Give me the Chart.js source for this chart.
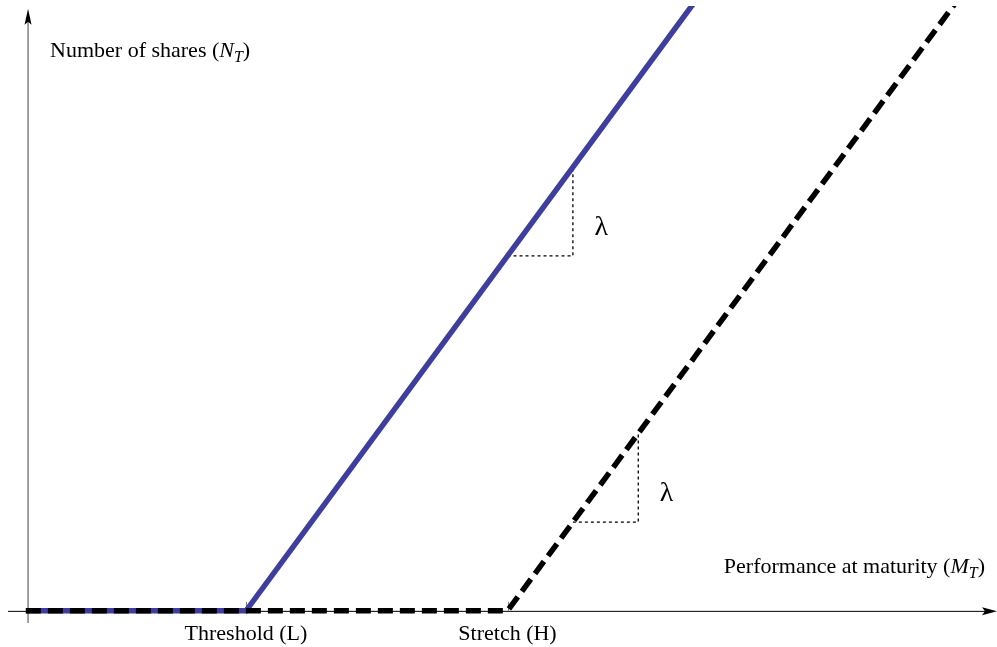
<!DOCTYPE html>
<html>
<head>
<meta charset="utf-8">
<title>Number of shares vs performance at maturity</title>
<script src="https://cdn.jsdelivr.net/npm/chart.js@4.4.0/dist/chart.umd.min.js"></script>
<style>
  html, body { margin: 0; padding: 0; background: #ffffff; }
  #wrap { width: 997px; height: 647px; }
</style>
</head>
<body>
<div id="wrap"><canvas id="c" width="997" height="647"></canvas></div>
<script>
// Payoff schedule: shares vested as a function of performance at maturity
const thresholdPerf = [-1, 100, 320];
const thresholdShares = [0, 0, 220];
const stretchPerf = [-1, 220, 440];
const stretchShares = [0, 0, 220];

// Slope markers (run of 30, rise of 30 => slope lambda)
const slopeThresholdX = [220, 250, 250];
const slopeThresholdY = [120, 120, 150];
const slopeStretchX = [250, 280, 280];
const slopeStretchY = [30, 30, 60];

// Axis tick positions and labels
const tickValues = [100, 220];
const tickLabels = ['Threshold (L)', 'Stretch (H)'];

const xMin = -9.2, xMax = 444.6;
const yMin = -4.1, yMax = 204.5;

const SERIF = "'Liberation Serif', 'Times New Roman', 'DejaVu Serif', serif";
const BLUE = 'rgb(62, 62, 158)';

function pts(xs, ys) { return xs.map((x, i) => ({ x: x, y: ys[i] })); }

// Draw a run of text pieces (with optional italic/subscript parts)
function richText(ctx, parts, x, y, align) {
  let total = 0;
  parts.forEach(p => { ctx.font = p.font; p.w = ctx.measureText(p.t).width; total += p.w; });
  let cx = align === 'right' ? x - total : (align === 'center' ? x - total / 2 : x);
  ctx.textAlign = 'left';
  ctx.textBaseline = 'alphabetic';
  parts.forEach(p => {
    ctx.font = p.font;
    ctx.fillText(p.t, cx, y + (p.dy || 0));
    cx += p.w;
  });
}

const axesPlugin = {
  id: 'axesPlugin',
  beforeDatasetsDraw(chart) {
    const ctx = chart.ctx, xs = chart.scales.x, ys = chart.scales.y;
    const x0 = xs.getPixelForValue(0), y0 = ys.getPixelForValue(0);
    const yTop = ys.getPixelForValue(203.6);
    const yBot = ys.getPixelForValue(yMin);
    const xLeft = xs.getPixelForValue(xMin);
    const xRight = xs.getPixelForValue(xMax);
    ctx.save();
    // vertical axis
    ctx.strokeStyle = '#808080';
    ctx.lineWidth = 1.5;
    ctx.beginPath();
    ctx.moveTo(x0, yBot);
    ctx.lineTo(x0, yTop + 12);
    ctx.stroke();
    ctx.fillStyle = '#000';
    ctx.beginPath();
    ctx.moveTo(x0, yTop);
    ctx.lineTo(x0 + 3.5, yTop + 16);
    ctx.lineTo(x0, yTop + 13);
    ctx.lineTo(x0 - 3.5, yTop + 16);
    ctx.closePath();
    ctx.fill();
    // horizontal axis
    ctx.strokeStyle = '#000';
    ctx.lineWidth = 1;
    ctx.beginPath();
    ctx.moveTo(xLeft, y0 + 0.5);
    ctx.lineTo(xRight - 10, y0 + 0.5);
    ctx.stroke();
    ctx.beginPath();
    ctx.moveTo(xRight, y0 + 0.5);
    ctx.lineTo(xRight - 15, y0 - 3.5);
    ctx.lineTo(xRight - 12, y0 + 0.5);
    ctx.lineTo(xRight - 15, y0 + 4.5);
    ctx.closePath();
    ctx.fill();
    // small ticks at L and H
    ctx.strokeStyle = '#808080';
    ctx.lineWidth = 1;
    tickValues.forEach(v => {
      const px = Math.round(xs.getPixelForValue(v)) + 0.5;
      ctx.beginPath();
      ctx.moveTo(px, y0);
      ctx.lineTo(px, y0 - 9);
      ctx.stroke();
    });
    ctx.restore();
  },
  afterDatasetsDraw(chart) {
    const ctx = chart.ctx, xs = chart.scales.x, ys = chart.scales.y;
    const x0 = xs.getPixelForValue(0), y0 = ys.getPixelForValue(0);
    ctx.save();
    ctx.fillStyle = '#000';
    const f = '22px ' + SERIF, fi = 'italic 22px ' + SERIF, fs = 'italic 16px ' + SERIF;
    // tick labels
    tickValues.forEach((v, i) => {
      richText(ctx, [{ t: tickLabels[i], font: f }], xs.getPixelForValue(v), y0 + 29, 'center');
    });
    // axis titles
    richText(ctx, [
      { t: 'Number of shares (', font: f },
      { t: 'N', font: fi },
      { t: 'T', font: fs, dy: 5 },
      { t: ')', font: f }
    ], x0 + 22, ys.getPixelForValue(187.3), 'left');
    richText(ctx, [
      { t: 'Performance at maturity (', font: f },
      { t: 'M', font: fi },
      { t: 'T', font: fs, dy: 5 },
      { t: ')', font: f }
    ], xs.getPixelForValue(xMax) - 12, y0 - 38, 'right');
    // slope labels
    const lf = '28px ' + SERIF;
    [[slopeThresholdX, slopeThresholdY], [slopeStretchX, slopeStretchY]].forEach(([sx, sy]) => {
      richText(ctx, [{ t: 'λ', font: lf }], xs.getPixelForValue(sx[2] + 13), ys.getPixelForValue(sy[0] + 7), 'center');
    });
    ctx.restore();
  }
};

new Chart(document.getElementById('c'), {
  type: 'scatter',
  data: {
    datasets: [
      {
        label: 'Stretch payoff',
        data: pts(stretchPerf, stretchShares),
        showLine: true,
        borderColor: '#000',
        borderWidth: 5.5,
        borderDash: [15, 7],
        borderCapStyle: 'butt',
        pointRadius: 0,
        tension: 0,
        order: 0
      },
      {
        label: 'Threshold payoff',
        data: pts(thresholdPerf, thresholdShares),
        showLine: true,
        borderColor: BLUE,
        borderWidth: 5.5,
        pointRadius: 0,
        tension: 0,
        order: 1
      },
      {
        label: 'Threshold slope',
        data: pts(slopeThresholdX, slopeThresholdY),
        showLine: true,
        borderColor: '#000',
        borderWidth: 1.3,
        borderDash: [3, 3],
        pointRadius: 0,
        tension: 0,
        order: 2
      },
      {
        label: 'Stretch slope',
        data: pts(slopeStretchX, slopeStretchY),
        showLine: true,
        borderColor: '#000',
        borderWidth: 1.3,
        borderDash: [3, 3],
        pointRadius: 0,
        tension: 0,
        order: 2
      }
    ]
  },
  options: {
    responsive: false,
    animation: false,
    devicePixelRatio: 1,
    layout: { padding: { left: 8, right: 0, top: 6, bottom: 24 } },
    plugins: { legend: { display: false }, tooltip: { enabled: false } },
    scales: {
      x: { type: 'linear', min: xMin, max: xMax, display: false },
      y: { type: 'linear', min: yMin, max: yMax, display: false }
    }
  },
  plugins: [axesPlugin]
});
</script>
</body>
</html>
